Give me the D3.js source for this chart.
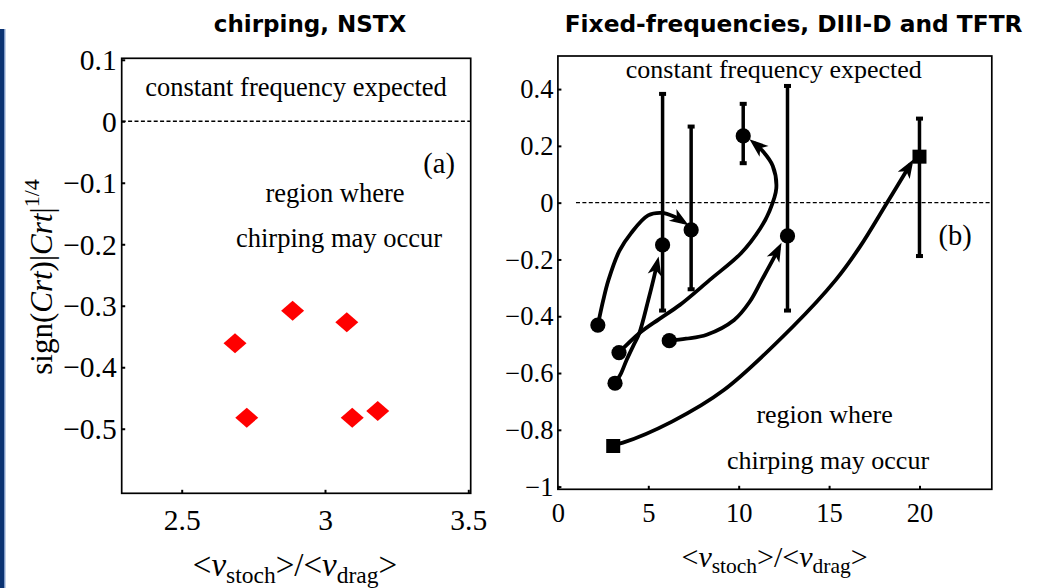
<!DOCTYPE html>
<html>
<head>
<meta charset="utf-8">
<script src="https://cdn.jsdelivr.net/npm/d3@7/dist/d3.min.js"></script>
<style>
  body { margin: 0; background: #fff; }
  svg { display: block; }
</style>
</head>
<body>
<svg id="fig" width="1040" height="588"></svg>
<script>
// ---------- panel (a): chirping, NSTX ----------
const nstxRatio = [2.686, 2.887, 3.076, 2.727, 3.095, 3.184];
const nstxCrt   = [-0.361, -0.308, -0.327, -0.482, -0.482, -0.471];
const ticksAx = [2.5, 3, 3.5];
const ticksAy = [0.1, 0, -0.1, -0.2, -0.3, -0.4, -0.5];

// ---------- panel (b): fixed frequencies, DIII-D and TFTR ----------
// end states (with error bars)
const endRatio = [5.79, 7.37, 10.25, 12.70, 20.0];
const endCrt   = [-0.149, -0.096, 0.235, -0.117, 0.162];
const endLow   = [-0.380, -0.305, 0.139, -0.380, -0.188];
const endHigh  = [0.383, 0.268, 0.348, 0.411, 0.296];
const endShape = ["circle", "circle", "circle", "circle", "square"];
// start states
const startRatio = [2.21, 3.38, 3.16, 6.16, 3.06];
const startCrt   = [-0.431, -0.528, -0.636, -0.486, -0.857];
const startShape = ["circle", "circle", "circle", "circle", "square"];
// evolution tracks from start to end state
const trackA = [[2.21,-0.431],[2.51,-0.343],[2.8,-0.272],[3.4,-0.17],[4.04,-0.108],[4.99,-0.045],[5.75,-0.036],[6.45,-0.05],[6.95,-0.068]];
const trackB = [[3.38,-0.528],[4.5,-0.46],[5.6,-0.41],[6.75,-0.36],[8.4,-0.272],[10.13,-0.178],[11.2,-0.09],[11.7,-0.03],[12.08,0.05],[11.88,0.13],[11.35,0.18],[10.85,0.21]];
const trackC = [[3.16,-0.636],[3.5,-0.6],[3.8,-0.554],[4.2,-0.5],[4.5,-0.46],[5.0,-0.343],[5.28,-0.272],[5.5,-0.21]];
const trackD = [[6.16,-0.486],[7.09,-0.479],[8.23,-0.465],[9.75,-0.413],[10.6,-0.35],[11.28,-0.272],[11.9,-0.2],[12.22,-0.16]];
const trackE = [[3.06,-0.852],[3.6,-0.845],[6.31,-0.771],[9.18,-0.66],[12.99,-0.437],[15.37,-0.272],[16.71,-0.155],[18.19,-0.002],[19.5,0.135]];
const tracks = [trackA, trackB, trackC, trackD, trackE];
const ticksBx = [0, 5, 10, 15, 20];
const ticksBy = [0.4, 0.2, 0, -0.2, -0.4, -0.6, -0.8, -1];

const svg = d3.select("#fig");
const serif = "'Liberation Serif', 'Times New Roman', serif";
const titleFont = "'DejaVu Sans', sans-serif";
const fmt = d3.format("~g");

svg.append("rect").attr("width", 1040).attr("height", 588).attr("fill", "#fff");

// slide edge bar
svg.append("rect").attr("x", 0).attr("y", 29).attr("width", 4.2).attr("height", 560).attr("fill", "#0b3372");
svg.append("rect").attr("x", 4.2).attr("y", 29).attr("width", 1.2).attr("height", 560).attr("fill", "#6b8cc0");

const defs = svg.append("defs");
defs.append("marker")
  .attr("id", "arrowHead")
  .attr("markerUnits", "userSpaceOnUse")
  .attr("viewBox", "-16 -9 24 18")
  .attr("markerWidth", 24).attr("markerHeight", 18)
  .attr("refX", 0).attr("refY", 0)
  .attr("orient", "auto")
  .append("path")
  .attr("d", "M6,0 L-13,-7 L-8,0 L-13,7 Z")
  .attr("fill", "#000");

// ===================== panel (a) =====================
const xA = d3.scaleLinear().domain([2.2906, 3.5084]).range([121.7, 470.7]);
const yA = d3.scaleLinear().domain([-0.605, 0.1024]).range([493.3, 58.3]);
const gA = svg.append("g");

gA.append("text").attr("x", 310).attr("y", 31.7).attr("text-anchor", "middle")
  .attr("font-family", titleFont).attr("font-weight", "bold").attr("font-size", 23)
  .text("chirping, NSTX");

gA.append("line")
  .attr("x1", xA.range()[0]).attr("x2", xA.range()[1])
  .attr("y1", yA(0)).attr("y2", yA(0))
  .attr("stroke", "#000").attr("stroke-width", 1.4).attr("stroke-dasharray", "4,2.4");

const axAy = gA.append("g").attr("transform", `translate(${xA.range()[0]},0)`)
  .call(d3.axisLeft(yA).tickValues(ticksAy).tickSize(-3.5).tickPadding(5).tickFormat(fmt));
const axAx = gA.append("g").attr("transform", `translate(0,${yA.range()[0]})`)
  .call(d3.axisBottom(xA).tickValues(ticksAx).tickSize(-3.5).tickPadding(5).tickFormat(fmt));
[axAy, axAx].forEach(ax => {
  ax.select(".domain").remove();
  ax.selectAll("line").attr("stroke", "#000").attr("stroke-width", 2);
  ax.selectAll("text").attr("font-family", serif).attr("font-size", 29.5).attr("fill", "#000");
});
axAy.selectAll("text").attr("dy", "0.33em");
axAx.selectAll("text").attr("y", 36.7).attr("dy", 0);

gA.append("rect")
  .attr("x", xA.range()[0]).attr("y", yA.range()[1])
  .attr("width", xA.range()[1] - xA.range()[0]).attr("height", yA.range()[0] - yA.range()[1])
  .attr("fill", "none").attr("stroke", "#000").attr("stroke-width", 1.7);

const diamond = (cx, cy) => `M${cx},${cy - 10}L${cx + 11.5},${cy}L${cx},${cy + 10}L${cx - 11.5},${cy}Z`;
gA.selectAll("path.nstx").data(nstxRatio).join("path").attr("class", "nstx")
  .attr("d", (d, i) => diamond(xA(d), yA(nstxCrt[i])))
  .attr("fill", "#ff0000");

const txtA = [
  { s: "constant frequency expected", x: 296, y: 95.5, a: "middle", f: 26.5 },
  { s: "(a)", x: 455, y: 173, a: "end", f: 28.5 },
  { s: "region where", x: 335, y: 201.7, a: "middle", f: 26.5 },
  { s: "chirping may occur", x: 339, y: 246.7, a: "middle", f: 26.5 },
];
gA.selectAll("text.note").data(txtA).join("text").attr("class", "note")
  .attr("x", d => d.x).attr("y", d => d.y).attr("text-anchor", d => d.a)
  .attr("font-family", serif).attr("font-size", d => d.f).text(d => d.s);

// y-axis title: sign(Crt)|Crt|^(1/4)
const yt = gA.append("text")
  .attr("transform", "translate(52,277) rotate(-90)")
  .attr("text-anchor", "middle").attr("font-family", serif).attr("font-size", 31);
yt.append("tspan").text("sign(");
yt.append("tspan").attr("font-style", "italic").text("Crt");
yt.append("tspan").text(")|");
yt.append("tspan").attr("font-style", "italic").text("Crt");
yt.append("tspan").text("|");
yt.append("tspan").attr("font-size", 22).attr("dy", -13).text("1/4");

function ratioLabel(g, cx, by, big, small) {
  const t = g.append("text").attr("x", cx).attr("y", by).attr("text-anchor", "middle")
    .attr("font-family", serif).attr("font-size", big);
  const sub = small * 0.3;
  t.append("tspan").text("<");
  t.append("tspan").attr("font-style", "italic").text("ν");
  t.append("tspan").attr("font-size", small).attr("dy", sub).text("stoch");
  t.append("tspan").attr("dy", -sub).text(">/<");
  t.append("tspan").attr("font-style", "italic").text("ν");
  t.append("tspan").attr("font-size", small).attr("dy", sub).text("drag");
  t.append("tspan").attr("dy", -sub).text(">");
}
ratioLabel(gA, 295, 576, 33, 23.5);

// ===================== panel (b) =====================
const xB = d3.scaleLinear().domain([0, 24]).range([557.9, 991.8]);
const yB = d3.scaleLinear().domain([-1.0095, 0.5165]).range([489.3, 56]);
const gB = svg.append("g");

gB.append("text").attr("x", 793.6).attr("y", 31.7).attr("text-anchor", "middle")
  .attr("font-family", titleFont).attr("font-weight", "bold").attr("font-size", 23.3)
  .text("Fixed-frequencies, DIII-D and TFTR");

gB.append("line")
  .attr("x1", xB(1)).attr("x2", xB.range()[1])
  .attr("y1", yB(0)).attr("y2", yB(0))
  .attr("stroke", "#000").attr("stroke-width", 1.4).attr("stroke-dasharray", "4,2.4");

const axBy = gB.append("g").attr("transform", `translate(${xB.range()[0]},0)`)
  .call(d3.axisLeft(yB).tickValues(ticksBy).tickSize(-3.5).tickPadding(4.5).tickFormat(fmt));
const axBx = gB.append("g").attr("transform", `translate(0,${yB.range()[0]})`)
  .call(d3.axisBottom(xB).tickValues(ticksBx).tickSize(-3.5).tickPadding(5).tickFormat(fmt));
[axBy, axBx].forEach(ax => {
  ax.select(".domain").remove();
  ax.selectAll("line").attr("stroke", "#000").attr("stroke-width", 2);
  ax.selectAll("text").attr("font-family", serif).attr("font-size", 26.5).attr("fill", "#000");
});
axBy.selectAll("text").attr("dy", "0.33em");
axBx.selectAll("text").attr("y", 32.4).attr("dy", 0);

gB.append("rect")
  .attr("x", xB.range()[0]).attr("y", yB.range()[1])
  .attr("width", xB.range()[1] - xB.range()[0]).attr("height", yB.range()[0] - yB.range()[1])
  .attr("fill", "none").attr("stroke", "#000").attr("stroke-width", 1.7);

// error bars with small caps
endRatio.forEach((x, i) => {
  const px = xB(x);
  gB.append("line").attr("x1", px).attr("x2", px)
    .attr("y1", yB(endLow[i])).attr("y2", yB(endHigh[i]))
    .attr("stroke", "#000").attr("stroke-width", 3.5);
  [endLow[i], endHigh[i]].forEach(v => {
    gB.append("rect").attr("x", px - 3.5).attr("y", yB(v) - 2)
      .attr("width", 7).attr("height", 4).attr("fill", "#000");
  });
});

// evolution tracks with arrow heads
const trackLine = d3.line().x(d => xB(d[0])).y(d => yB(d[1])).curve(d3.curveCatmullRom.alpha(0.5));
gB.selectAll("path.track").data(tracks).join("path").attr("class", "track")
  .attr("d", trackLine).attr("fill", "none").attr("stroke", "#000")
  .attr("stroke-width", 3.8).attr("marker-end", "url(#arrowHead)");

function stateMarker(x, y, shape) {
  if (shape === "circle") {
    gB.append("circle").attr("cx", xB(x)).attr("cy", yB(y)).attr("r", 7.6).attr("fill", "#000");
  } else {
    gB.append("rect").attr("x", xB(x) - 7).attr("y", yB(y) - 7)
      .attr("width", 14).attr("height", 14).attr("fill", "#000");
  }
}
startRatio.forEach((x, i) => stateMarker(x, startCrt[i], startShape[i]));
endRatio.forEach((x, i) => stateMarker(x, endCrt[i], endShape[i]));

const txtB = [
  { s: "constant frequency expected", x: 773.8, y: 78, a: "middle", f: 26 },
  { s: "(b)", x: 971.8, y: 245, a: "end", f: 28.5 },
  { s: "region where", x: 824.6, y: 423.3, a: "middle", f: 26 },
  { s: "chirping may occur", x: 828, y: 469.3, a: "middle", f: 26 },
];
gB.selectAll("text.note").data(txtB).join("text").attr("class", "note")
  .attr("x", d => d.x).attr("y", d => d.y).attr("text-anchor", d => d.a)
  .attr("font-family", serif).attr("font-size", d => d.f).text(d => d.s);

ratioLabel(gB, 774.6, 567, 30, 21.5);
</script>
</body>
</html>
